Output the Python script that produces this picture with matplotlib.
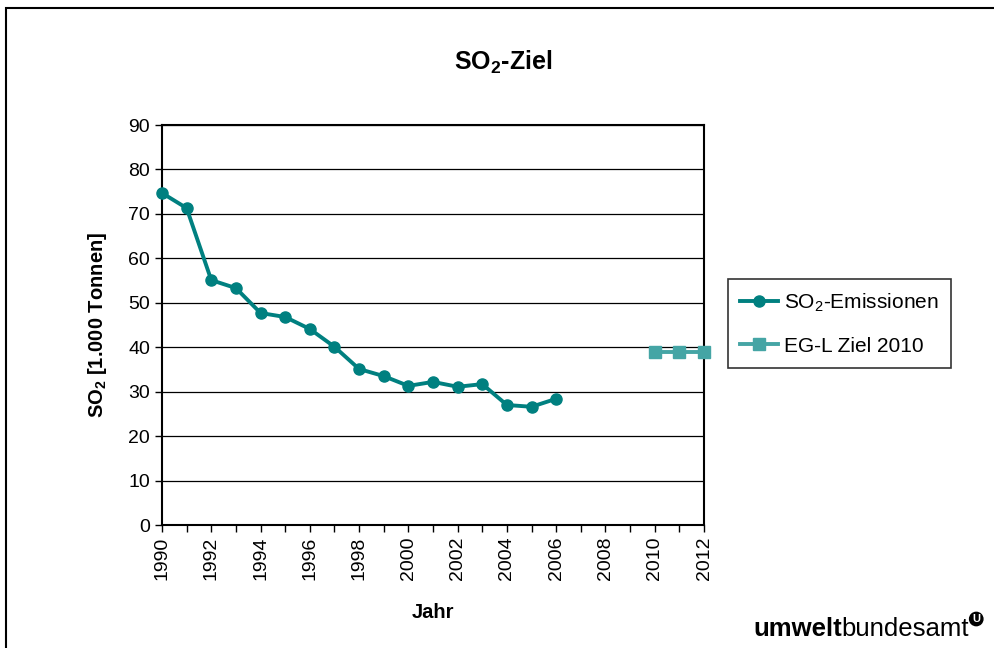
import matplotlib
matplotlib.use("Agg")
import matplotlib.pyplot as plt
import numpy as np
from matplotlib.patches import Rectangle

plt.rcParams['font.family'] = ['Liberation Sans', 'DejaVu Sans']
plt.rcParams['mathtext.default'] = 'regular'

# Data
years = [1990, 1991, 1992, 1993, 1994, 1995, 1996, 1997, 1998,
         1999, 2000, 2001, 2002, 2003, 2004, 2005, 2006]
so2_emissions = [74.7, 71.3, 55.1, 53.3, 47.7, 46.8, 44.1, 40.1, 35.1,
                 33.5, 31.3, 32.2, 31.1, 31.7, 27.0, 26.6, 28.4]
target_years = [2010, 2011, 2012]
target_values = [38.9, 38.9, 38.9]

x_ticks = list(range(1990, 2013, 2))
y_ticks = list(range(0, 91, 10))

W, H = 995, 648
fig = plt.figure(figsize=(W / 100, H / 100), dpi=100)

# outer frame of the picture
fig.patches.append(Rectangle((6 / W, -0.1), 1.2, 1 - 8 / H + 0.1,
                             transform=fig.transFigure, fill=False,
                             edgecolor='black', linewidth=1.5))

ax = fig.add_axes([162 / W, 1 - 525 / H, (704 - 162) / W, (525 - 125) / H])

ax.plot(years, so2_emissions, color='#008080', linewidth=2.8, marker='o',
        markersize=8, label='SO$_2$-Emissionen', clip_on=False, zorder=3)
ax.plot(target_years, target_values, color='#45A5A5', linewidth=2.8, marker='s',
        markersize=8, label='EG-L Ziel 2010', clip_on=False, zorder=3)

ax.set_xlim(1990, 2012)
ax.set_ylim(0, 90)
ax.set_xticks(x_ticks)
ax.set_xticks(range(1990, 2013), minor=True)
ax.set_yticks(y_ticks)
ax.tick_params(axis='x', which='both', direction='out', length=5, width=1,
               labelsize=14, labelrotation=90)
ax.tick_params(axis='y', direction='out', length=5, width=1, labelsize=14)
ax.yaxis.grid(True, color='black', linewidth=0.9)
ax.set_axisbelow(True)
for sp in ax.spines.values():
    sp.set_linewidth(1.5)

ax.set_xlabel('Jahr', fontsize=14.5, fontweight='bold')
ax.set_ylabel('SO$_2$ [1.000 Tonnen]', fontsize=14.5, fontweight='bold')
ax.xaxis.set_label_coords(0.5, -0.195)
ax.yaxis.set_label_coords(-0.098, 0.5)
fig.text(503 / W, 1 - 62 / H, 'SO$_2$-Ziel', fontsize=18, fontweight='bold',
         ha='center', va='center')

leg = fig.legend(loc='upper left', bbox_to_anchor=(728 / W, 1 - 279 / H),
                 bbox_transform=fig.transFigure, fontsize=15, frameon=True,
                 fancybox=False, edgecolor='black', borderaxespad=0,
                 handlelength=1.8, handletextpad=0.3, labelspacing=1.1,
                 borderpad=0.6)
leg.get_frame().set_linewidth(1.2)

# logo text
t1 = fig.text(753 / W, 1 - 636 / H, 'umwelt', fontsize=18.5, fontweight='bold',
              ha='left', va='baseline')
fig.canvas.draw()
bb = t1.get_window_extent()
t2 = fig.text(bb.x1 / W, 1 - 636 / H, 'bundesamt', fontsize=18.5,
              ha='left', va='baseline')
fig.canvas.draw()
bb2 = t2.get_window_extent()
fig.text(bb2.x1 / W + 0.003, 1 - 619 / H, 'U', fontsize=8, fontweight='bold',
         ha='left', va='center', color='white',
         bbox=dict(boxstyle='circle,pad=0.15', facecolor='black', edgecolor='black'))

fig.savefig('out.png', dpi=100)
